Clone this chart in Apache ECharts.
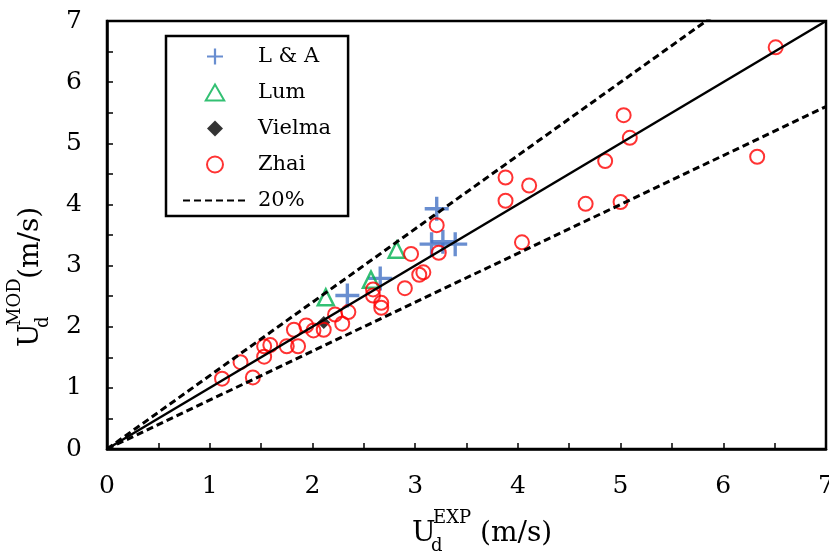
<!DOCTYPE html>
<html>
<head>
<meta charset="utf-8">
<script src="https://cdn.jsdelivr.net/npm/echarts@6/dist/echarts.min.js"></script>
<style>
html,body{margin:0;padding:0;background:#fff;}
#c{width:829px;height:552px;}
</style>
</head>
<body>
<div id="c"></div>
<script>
// ---- data ----
const laX = [2.34, 2.66, 3.16, 3.27, 3.39, 3.21];
const laY = [2.51, 2.79, 3.35, 3.39, 3.35, 3.93];
const lumX = [2.13, 2.57, 2.82];
const lumY = [2.48, 2.77, 3.26];
const vielmaX = [2.11];
const vielmaY = [2.07];
const zhaiX = [1.12, 1.42, 1.30, 1.53, 1.53, 1.59, 1.75, 1.86, 1.82, 1.94, 2.01, 2.11, 2.22, 2.29, 2.35,
  2.59, 2.59, 2.67, 2.67, 2.90, 2.96, 3.04, 3.08, 3.21, 3.23, 3.88, 4.11, 3.88, 4.04, 4.66, 5.00, 4.85,
  6.51, 5.03, 5.09, 6.33];
const zhaiY = [1.15, 1.17, 1.42, 1.51, 1.68, 1.70, 1.68, 1.68, 1.95, 2.02, 1.94, 1.95, 2.20, 2.05, 2.24,
  2.61, 2.51, 2.39, 2.31, 2.63, 3.19, 2.85, 2.89, 3.66, 3.21, 4.44, 4.31, 4.06, 3.38, 4.01, 4.04, 4.71,
  6.57, 5.46, 5.09, 4.78];
const lineX = [0, 7];
const unityY = [0, 7];
const upperY = [0, 8.4];   // +20%
const lowerY = [0, 5.6];   // -20%
const seriesNames = ['L & A', 'Lum', 'Vielma', 'Zhai', '20%'];
const xTitle = ['U', 'd', 'EXP', '(m/s)'];
const yTitle = ['U', 'd', 'MOD', '(m/s)'];

const zip = (xs, ys) => xs.map((x, i) => [x, ys[i]]);
const FONT = 'DejaVu Serif';
const plusPath = 'path://M8.6,0H11.4V8.6H20V11.4H11.4V20H8.6V11.4H0V8.6H8.6Z';
const triPath = 'path://M10,0L20,17.32L0,17.32Z';
const diaPath = 'path://M10,0L20,10L10,20L0,10Z';

function titleGroup(parts, x, y, rotation) {
  return {
    type: 'group', x: x, y: y, rotation: rotation,
    children: [
      {type: 'text', x: 0, y: 0, style: {text: parts[0], fontFamily: FONT, fontSize: 28, fill: '#000', align: 'left', verticalAlign: 'middle'}},
      {type: 'text', x: 19, y: 12, style: {text: parts[1], fontFamily: FONT, fontSize: 18, fill: '#000', align: 'left', verticalAlign: 'middle'}},
      {type: 'text', x: 21, y: -16, style: {text: parts[2], fontFamily: FONT, fontSize: 18, fill: '#000', align: 'left', verticalAlign: 'middle'}},
      {type: 'text', x: 68, y: 0, style: {text: parts[3], fontFamily: FONT, fontSize: 28, fill: '#000', align: 'left', verticalAlign: 'middle'}}
    ]
  };
}

const chart = echarts.init(document.getElementById('c'), null, {renderer: 'canvas'});
const axisCommon = {
  type: 'value', min: 0, max: 7, interval: 1,
  axisLine: {show: true, onZero: false, lineStyle: {color: '#000', width: 2.5}},
  axisTick: {show: true, inside: true, length: 6, lineStyle: {color: '#000', width: 1.5}},
  minorTick: {show: true, splitNumber: 2, length: 6, lineStyle: {color: '#000', width: 1.5}},
  splitLine: {show: false},
  axisLabel: {color: '#000', fontFamily: FONT, fontSize: 25, margin: 25}
};
chart.setOption({
  animation: false,
  backgroundColor: '#fff',
  grid: {left: 107, right: 3, top: 21, bottom: 103, show: true, borderColor: '#000', borderWidth: 2.5,
    containLabel: false, outerBoundsMode: 'none'},
  xAxis: axisCommon,
  yAxis: axisCommon,
  legend: {
    data: [
      {name: seriesNames[0]},
      {name: seriesNames[1]},
      {name: seriesNames[2]},
      {name: seriesNames[3]},
      {name: seriesNames[4], itemStyle: {opacity: 0}}
    ],
    orient: 'vertical', left: 166, top: 36,
    itemWidth: 64, itemHeight: 16, itemGap: 15,
    padding: [10, 17, 5, 16],
    backgroundColor: '#fff', borderColor: '#000', borderWidth: 2.5, borderRadius: 0,
    textStyle: {fontFamily: FONT, fontSize: 21, color: '#000', padding: [0, 0, 0, 6]},
    selectedMode: false
  },
  graphic: [
    titleGroup(xTitle, 412, 534, 0),
    titleGroup(yTitle, 31, 347, Math.PI / 2)
  ],
  series: [
    {name: seriesNames[0], type: 'scatter', data: zip(laX, laY), symbol: plusPath, symbolSize: 24,
      itemStyle: {color: '#4472C4'}},
    {name: seriesNames[1], type: 'scatter', data: zip(lumX, lumY), symbol: triPath, symbolSize: 16,
      itemStyle: {color: 'rgba(255,255,255,0)', borderColor: '#00B050', borderWidth: 2.5}},
    {name: seriesNames[2], type: 'scatter', data: zip(vielmaX, vielmaY), symbol: diaPath, symbolSize: 13,
      itemStyle: {color: '#000'}},
    {name: seriesNames[3], type: 'scatter', data: zip(zhaiX, zhaiY), symbol: 'circle', symbolSize: 14,
      itemStyle: {color: 'rgba(255,255,255,0)', borderColor: '#FF0000', borderWidth: 2}},
    {name: seriesNames[4], type: 'line', data: zip(lineX, upperY), symbol: 'none', clip: true,
      itemStyle: {color: '#000'}, lineStyle: {color: '#000', width: 3, type: [7, 4]}},
    {name: seriesNames[4], type: 'line', data: zip(lineX, lowerY), symbol: 'none', clip: true,
      itemStyle: {color: '#000'}, lineStyle: {color: '#000', width: 3, type: [7, 4]}},
    {name: '1:1', type: 'line', data: zip(lineX, unityY), symbol: 'none', clip: true,
      itemStyle: {color: '#000'}, lineStyle: {color: '#000', width: 2.5}}
  ]
});
</script>
</body>
</html>
